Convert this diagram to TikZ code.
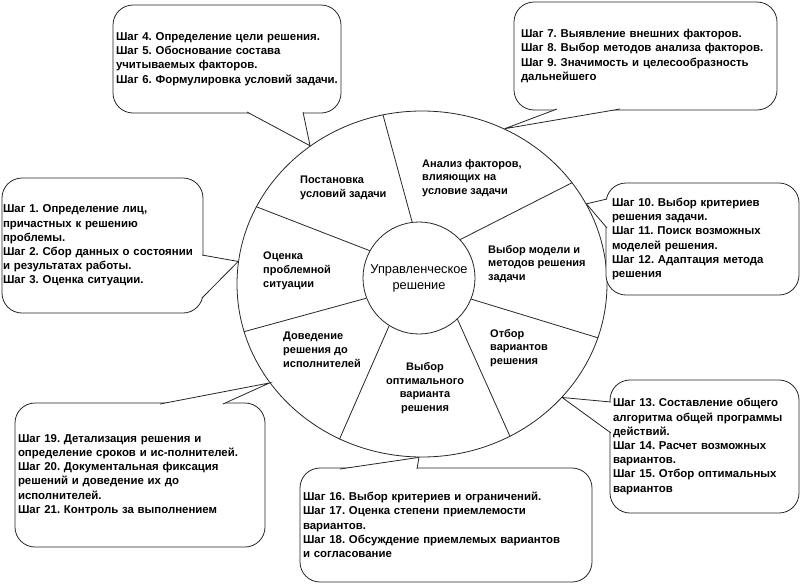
\documentclass[tikz,border=0pt]{standalone}
\usepackage{fontspec}
\setmainfont{Liberation Sans}
\usetikzlibrary{shapes.geometric}
\frenchspacing

\begin{document}
\begin{tikzpicture}[x=1pt, y=-1pt,
		wire/.style={draw=black!85, line width=0.8pt},
		bubble/.style={wire, fill=white, rounded corners=20pt, align=left, inner xsep=3pt, inner ysep=0pt, font=\bfseries\fontsize{11.4}{14.2}\selectfont},
		sector/.style={inner sep=0pt, align=left, anchor=west, font=\bfseries\fontsize{11}{13.8}\selectfont}
	]
	\useasboundingbox (0,0) rectangle (800,584);

	\node[wire, ellipse, minimum width=370pt, minimum height=346pt] (wheel) at (422,284) {};
	\node[wire, circle, fill=white, minimum size=112pt, inner sep=1pt, align=center, font=\fontsize{12.8}{16}\selectfont] (core) at (419,278) {Управленческое\\решение};

	\foreach \a/\b in {97/103, 43/34, 338/343, 313/300, 238/242, 201/195, 151/155}
		\draw[wire] (core.\a) -- (wheel.\b);

	\node[sector] (zadacha) at (300,188) {Постановка\\условий задачи};
	\node[sector] (faktory) at (422,178) {Анализ факторов,\\влияющих на\\условие задачи};
	\node[sector] (model) at (488,264) {Выбор модели и\\методов решения\\задачи};
	\node[sector] (otbor) at (490,348) {Отбор\\вариантов\\решения};
	\node[sector, anchor=center, align=center] (optimum) at (425,388) {Выбор\\оптимального\\варианта\\решения};
	\node[sector] (dovedenie) at (283,350) {Доведение\\решения до\\исполнителей};
	\node[sector] (ocenka) at (263,271) {Оценка\\проблемной\\ситуации};

	\node[bubble, minimum width=228pt, minimum height=108pt, text width=222pt] (s46) at (227,59) {Шаг 4. Определение цели решения.\\Шаг 5. Обоснование состава\\учитываемых факторов.\\Шаг 6. Формулировка условий задачи.};
	\node[bubble, inner xsep=7pt, minimum width=263pt, minimum height=108pt, text width=249pt] (s79) at (645.5,56) {Шаг 7. Выявление внешних факторов.\\Шаг 8. Выбор методов анализа факторов.\\Шаг 9. Значимость и целесообразность\\дальнейшего};
	\node[bubble, inner xsep=1pt, minimum width=201pt, minimum height=135pt, text width=199pt] (s13) at (102.5,245.5) {Шаг 1. Определение лиц,\\причастных к решению\\проблемы.\\Шаг 2. Сбор данных о состоянии\\и результатах работы.\\Шаг 3. Оценка ситуации.};
	\node[bubble, inner xsep=6pt, minimum width=193pt, minimum height=112pt, text width=181pt] (s1012) at (702.5,239) {Шаг 10. Выбор критериев\\решения задачи.\\Шаг 11. Поиск возможных\\моделей решения.\\Шаг 12. Адаптация метода\\решения};
	\node[bubble, minimum width=189pt, minimum height=133pt, text width=183pt] (s1315) at (704.5,446.5) {Шаг 13. Составление общего\\алгоритма общей программы\\действий.\\Шаг 14. Расчет возможных\\вариантов.\\Шаг 15. Отбор оптимальных\\вариантов};
	\node[bubble, minimum width=250pt, minimum height=144pt, text width=244pt] (s1921) at (140,475) {Шаг 19. Детализация решения и\\определение сроков и ис-полнителей.\\Шаг 20. Документальная фиксация\\решений и доведение их до\\исполнителей.\\Шаг 21. Контроль за выполнением};
	\node[bubble, minimum width=292pt, minimum height=114pt, text width=286pt] (s1618) at (446,525) {Шаг 16. Выбор критериев и ограничений.\\Шаг 17. Оценка степени приемлемости\\вариантов.\\Шаг 18. Обсуждение приемлемых вариантов\\и согласование};

	\coordinate (a1) at (247,112);
	\coordinate (a2) at (303,112);
	\coordinate (b1) at (557,109);
	\coordinate (b2) at (620,109);
	\coordinate (c1) at (202,255);
	\coordinate (c2) at (202,298);
	\coordinate (d1) at (607,199);
	\coordinate (d2) at (607,228);
	\coordinate (e1) at (611,402);
	\coordinate (e2) at (611,433);
	\coordinate (f1) at (160,404);
	\coordinate (f2) at (223,404);
	\coordinate (g1) at (340,469);
	\coordinate (g2) at (417,469);

	\foreach \p/\q/\t in {a1/a2/129.8, b1/b2/62.7, c1/c2/173.2, d1/d2/26.4, e1/e2/321.9, f1/f2/213.2, g1/g2/269.3} {
		\fill[white] (\p) -- (wheel.\t) -- (\q) -- cycle;
		\draw[wire] (\p) -- (wheel.\t) -- (\q);
	}
\end{tikzpicture}
\end{document}
